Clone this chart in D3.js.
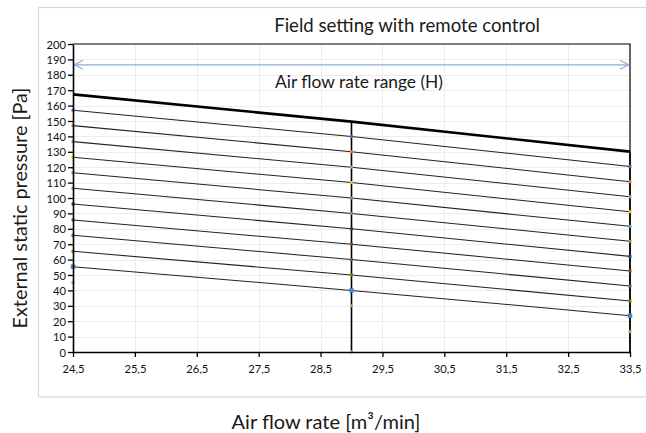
<!DOCTYPE html>
<html><head><meta charset="utf-8">
<script src="https://cdn.jsdelivr.net/npm/d3@7"></script>
<style>body{margin:0;background:#fff}svg{display:block}</style>
</head><body><svg id="c" width="646" height="433"></svg>
<script>
// ---- data ----
const xPoints = [24.5, 29, 33.5];
const xTicks = [24.5, 25.5, 26.5, 27.5, 28.5, 29.5, 30.5, 31.5, 32.5, 33.5];
const yTicks = [0, 10, 20, 30, 40, 50, 60, 70, 80, 90, 100, 110, 120, 130, 140, 150, 160, 170, 180, 190, 200];
const thickSeries = [167.3, 149.6, 130.1];
const series1 = [157.0, 140.0, 120.5];
const series2 = [147.0, 130.0, 110.6];
const series3 = [136.6, 120.0, 100.8];
const series4 = [126.4, 110.0, 91.1];
const series5 = [116.4, 100.0, 81.6];
const series6 = [106.3, 90.0, 71.9];
const series7 = [96.1, 80.0, 62.1];
const series8 = [85.7, 70.0, 52.6];
const series9 = [75.8, 60.0, 42.9];
const series10 = [65.4, 50.0, 33.1];
const series11 = [55.4, 40.0, 23.6];
const markerOnly = [45.0, 30.0, 13.2];
const thinSeries = [series1, series2, series3, series4, series5, series6, series7, series8, series9, series10, series11];
const markerColors = ["#4472C4", "#ED7D31", "#A5A5A5", "#FFC000", "#5B9BD5", "#70AD47", "#264478", "#9E480E", "#636363", "#997300", "#4a86c8", "#86c15f"];
const verticalX = [29, 33.5];
const verticalTop = [149.6, 130.1];
const rangeArrowY = 186.5;
const rangeLabel = "Air flow rate range (H)";
const chartTitle = "Field setting with remote control";
const xTitle = "Air flow rate [m³/min]";
const yTitle = "External static pressure [Pa]";

// ---- layout ----
const svg = d3.select("#c");
const FONT = "Lato, 'Open Sans', sans-serif";
const x = d3.scaleLinear().domain([24.5, 33.5]).range([73, 630]);
const y = d3.scaleLinear().domain([0, 200]).range([352, 44]);

// outer chart border
svg.append("rect").attr("x", 38.5).attr("y", 7.5).attr("width", 620).attr("height", 389.5)
  .attr("fill", "none").attr("stroke", "#d9d9d9").attr("stroke-width", 1.2);

// gridlines
const grid = svg.append("g");
grid.selectAll("line.h").data(yTicks.filter(d => d > 0 && d < 200)).join("line")
  .attr("x1", x(24.5)).attr("x2", x(33.5))
  .attr("y1", d => Math.round(y(d)) + 0.5).attr("y2", d => Math.round(y(d)) + 0.5)
  .attr("stroke", "#ededed").attr("stroke-width", 1);
grid.selectAll("line.v").data(xTicks.filter(d => d > 24.5 && d < 33.5)).join("line")
  .attr("x1", d => Math.round(x(d)) + 0.5).attr("x2", d => Math.round(x(d)) + 0.5)
  .attr("y1", y(0)).attr("y2", y(200))
  .attr("stroke", "#ededed").attr("stroke-width", 1);

// plot border (top, right)
svg.append("path")
  .attr("d", `M${x(24.5)},${y(200)}H${x(33.5)}V${y(0)}`)
  .attr("fill", "none").attr("stroke", "#000").attr("stroke-width", 1.2);

// range arrow
const ay = y(rangeArrowY);
const arrowG = svg.append("g").attr("stroke", "#8eaadb").attr("fill", "none").attr("stroke-width", 1.2);
arrowG.append("line").attr("x1", x(24.5) + 1).attr("x2", x(33.5) - 1).attr("y1", ay).attr("y2", ay);
arrowG.append("path").attr("d", `M${x(24.5) + 10},${ay - 4.5}L${x(24.5) + 1.5},${ay}L${x(24.5) + 10},${ay + 4.5}`);
arrowG.append("path").attr("d", `M${x(33.5) - 10},${ay - 4.5}L${x(33.5) - 1.5},${ay}L${x(33.5) - 10},${ay + 4.5}`);

// lines
const line = d3.line().x((d, i) => x(xPoints[i])).y(d => y(d));
svg.selectAll("path.thin").data(thinSeries).join("path")
  .attr("d", d => line(d)).attr("fill", "none").attr("stroke", "#222").attr("stroke-width", 1.05);
svg.append("path").attr("d", line(thickSeries)).attr("fill", "none").attr("stroke", "#000").attr("stroke-width", 2.6);

// vertical lines
svg.selectAll("line.vert").data(verticalX).join("line")
  .attr("x1", d => x(d)).attr("x2", d => x(d))
  .attr("y1", y(0)).attr("y2", (d, i) => y(verticalTop[i]))
  .attr("stroke", "#000").attr("stroke-width", 1.6);

// markers
const allMarkerSeries = thinSeries.concat([markerOnly]);
allMarkerSeries.forEach((s, si) => {
  const sz = si === 10 ? 4.5 : 3;
  svg.append("g").selectAll("rect").data(s).join("rect")
    .attr("x", (d, i) => x(xPoints[i]) - sz / 2).attr("y", d => y(d) - sz / 2)
    .attr("width", sz).attr("height", sz).attr("fill", markerColors[si]);
});
svg.append("rect").attr("x", x(29) - 1.5).attr("y", y(0) - 1.5).attr("width", 3).attr("height", 3).attr("fill", "#a9b4e0");

// axes
const fmt = d => d.toFixed(1).replace(".", ",");
const xAxis = svg.append("g").attr("transform", `translate(0,${y(0)})`)
  .call(d3.axisBottom(x).tickValues(xTicks).tickFormat(fmt).tickSize(5).tickSizeOuter(0));
const yAxis = svg.append("g").attr("transform", `translate(${x(24.5)},0)`)
  .call(d3.axisLeft(y).tickValues(yTicks).tickFormat(d3.format("d")).tickSize(5).tickSizeOuter(0));
[xAxis, yAxis].forEach(a => {
  a.select(".domain").attr("stroke", "#000").attr("stroke-width", 1.6);
  a.selectAll(".tick line").attr("stroke", "#000").attr("stroke-width", 1.3);
  a.selectAll(".tick text").attr("fill", "#111").style("font-family", FONT).style("font-size", "11.2px");
});
xAxis.selectAll(".tick text").attr("dy", null).attr("y", 21);
yAxis.selectAll(".tick text").attr("x", -7).attr("dy", "0.36em");

// text helper: fit to a target width
function fitText(sel, target) {
  const len = sel.node().getComputedTextLength();
  const fs = parseFloat(sel.style("font-size"));
  sel.style("font-size", (fs * target / len).toFixed(2) + "px");
}

const t = svg.append("text").attr("x", 407).attr("y", 32).attr("text-anchor", "middle")
  .style("font-family", FONT).style("font-size", "17px").attr("fill", "#1a1a1a").text(chartTitle);
fitText(t, 266);

const rl = svg.append("text").attr("x", 359).attr("y", 88).attr("text-anchor", "middle")
  .style("font-family", FONT).style("font-size", "15px").attr("fill", "#1a1a1a").text(rangeLabel);
fitText(rl, 168);

const xt = svg.append("text").attr("x", 326).attr("y", 429).attr("text-anchor", "middle")
  .style("font-family", FONT).style("font-size", "18px").attr("fill", "#1a1a1a").text(xTitle);
fitText(xt, 189);

const yt = svg.append("text").attr("transform", "translate(27,208) rotate(-90)").attr("text-anchor", "middle")
  .style("font-family", FONT).style("font-size", "18px").attr("fill", "#1a1a1a").text(yTitle);
fitText(yt, 241);
</script>
</body></html>
